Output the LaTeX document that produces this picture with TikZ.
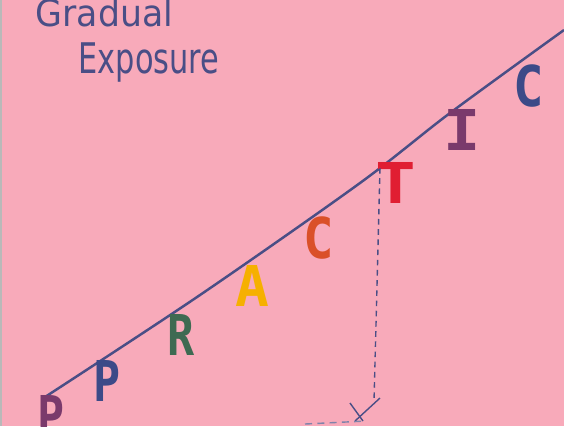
\documentclass[tikz,border=0pt]{standalone}
\usepackage{fontspec}
\setmainfont{DejaVu Sans}
\newfontfamily\markerfont{DejaVu Sans Mono}
\usepackage{xcolor}

\definecolor{paper}{HTML}{F8AABA}
\definecolor{pen}{HTML}{4A4E86}
\definecolor{plum}{HTML}{7A3A6C}
\definecolor{navy}{HTML}{3C4A88}
\definecolor{moss}{HTML}{3E6A52}
\definecolor{marigold}{HTML}{F6B000}
\definecolor{rust}{HTML}{DA5028}
\definecolor{scarlet}{HTML}{E01E32}

\begin{document}
\begin{tikzpicture}[x=0.01cm,y=-0.01cm,
  letter/.style={font=\markerfont\fontsize{16}{16}\selectfont\bfseries, inner sep=0pt},
  heading/.style={text=pen, font=\fontsize{10.5}{14}\selectfont, inner sep=0pt, anchor=base west}]
  \useasboundingbox (0,0) rectangle (564,426);
  \fill[paper] (0,0) rectangle (564,426);
  % edge of the sheet
  \fill[gray!55] (0,0) rectangle (2,426);

  % heading
  \node[heading] (grad) at (35,26) {\scalebox{0.94}[1]{Gradual}};
  \node[heading, font=\fontsize{12}{14}\selectfont] (expo) at (78,73) {\scalebox{0.72}[1]{Exposure}};

  % the rising line
  \draw[pen, line width=0.7pt] plot[smooth] coordinates {(45,397) (200,295) (360,183) (450,113) (564,30)};

  % letters under the line
  \node[letter, text=plum] (p1) at (51,416) {\scalebox{0.8}[1]{P}};
  \node[letter, text=navy] (p2) at (107,381) {\scalebox{0.8}[1]{P}};
  \node[letter, text=moss] (r) at (181,335) {\scalebox{0.8}[1]{R}};
  \node[letter, text=marigold] (a) at (252,286) {A};
  \node[letter, text=rust] (c1) at (319,238) {\scalebox{0.9}[1]{C}};
  \node[letter, text=scarlet] (t) at (396,183) {\scalebox{1.2}[1]{T}};
  \node[letter, text=plum] (i) at (462,130) {\scalebox{1.1}[1]{I}};
  \node[letter, text=navy] (c2) at (529,86) {\scalebox{0.9}[1]{C}};

  % drop from the T down to the cross
  \coordinate (drop) at (380,168);
  \coordinate (mark) at (374,402);
  \draw[pen, thin, dash pattern=on 1.6pt off 1.3pt] (drop) -- (mark);
  \draw[pen, thin] (350,403) -- (363,421);
  \draw[pen, thin] (380,398) -- (355,421);
  \draw[pen!70, thin, dash pattern=on 2pt off 1.5pt] (305,424) -- (366,421);
\end{tikzpicture}
\end{document}
